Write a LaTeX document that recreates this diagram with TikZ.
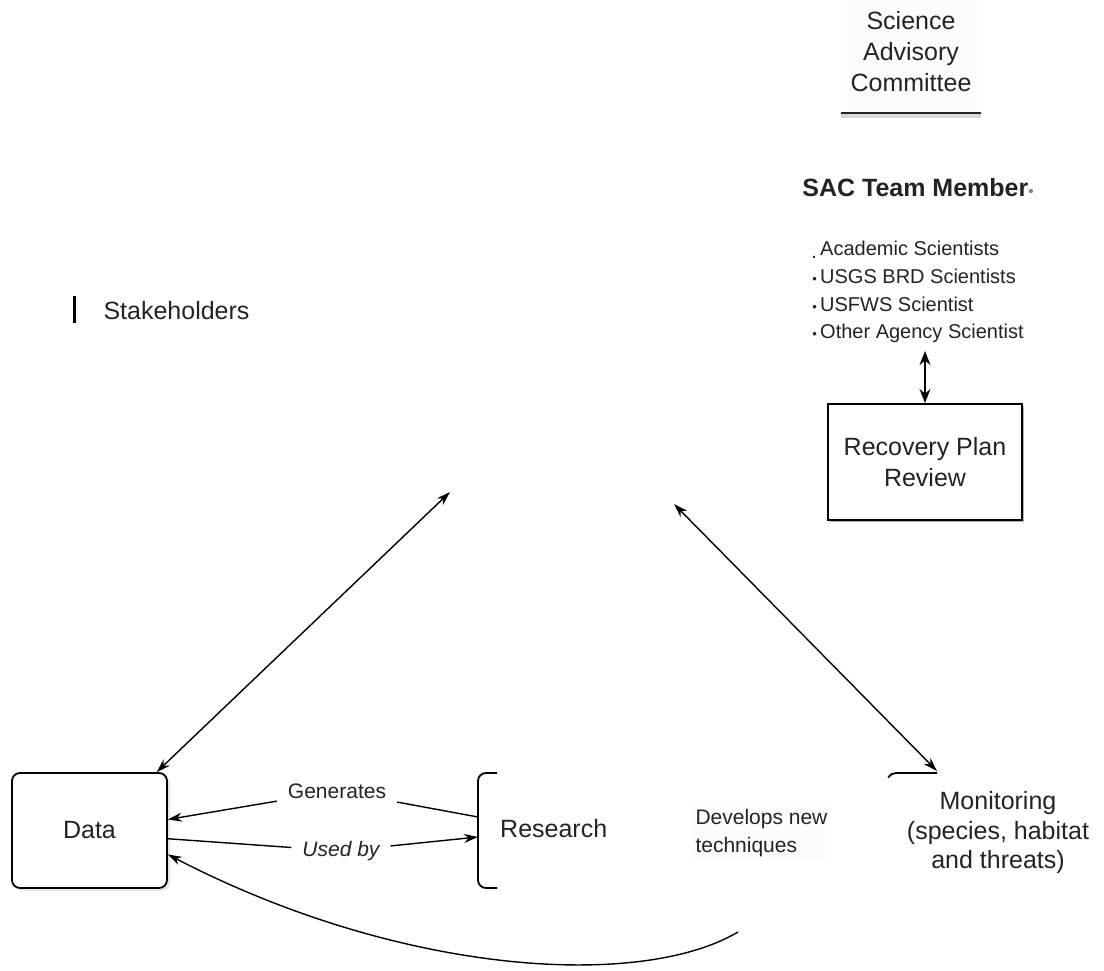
\documentclass[tikz,border=0pt]{standalone}
\usepackage{fontspec}
\setmainfont{Liberation Sans}
\usetikzlibrary{arrows.meta,positioning,shadows}
\definecolor{inkcol}{RGB}{35,35,35}
\newcommand\memberdot{{\fontsize{13}{13}\selectfont\textbullet}\,}

\begin{document}
\begin{tikzpicture}[x=1pt, y=-1pt,
  >={Stealth[length=14pt,width=9pt]},
  lbl/.style={font=\fontsize{25}{31}\selectfont, text=inkcol, align=center},
  small/.style={font=\fontsize{21}{28}\selectfont, text=inkcol},
  edgelbl/.style={small, inner sep=11pt},
  databox/.style={lbl, rectangle, rounded corners=8pt, draw=black,
                  line width=1.8pt, fill=white,
                  minimum width=155pt, minimum height=115pt,
                  drop shadow={shadow xshift=3pt, shadow yshift=-3pt,
                               opacity=0.2}},
  planbox/.style={lbl, rectangle, draw=black, line width=2pt, fill=white,
                  minimum width=194pt, minimum height=116pt,
                  drop shadow={shadow xshift=2pt, shadow yshift=-2pt,
                               opacity=0.6}},
  link/.style={line width=1.4pt}
]
  \useasboundingbox (0,0) rectangle (1104,971);

  % Committee heading with its underline
  \node[lbl, minimum width=139pt, minimum height=122pt, inner sep=0pt,
        fill=black!1] (sac) at (911,52) {Science\\Advisory\\Committee};
  \draw[line width=4pt, black!15] ([yshift=-3pt]sac.south west)
    -- ([yshift=-3pt]sac.south east);
  \draw[line width=2.5pt, black!85] (sac.south west) -- (sac.south east);

  % Team members
  \node[lbl, font=\bfseries\fontsize{25}{31}\selectfont] (sacteam)
    at (918,188) {SAC Team Member{\color{gray}\fontsize{15}{15}\selectfont\textbullet}};
  \node[align=left, anchor=west, inner xsep=0pt, inner ysep=8pt,
        text=inkcol, font=\fontsize{20}{27.7}\selectfont] (members)
    at (820,292) {\llap{\raisebox{-3pt}{.}\,}Academic Scientists\\
                  \llap{\memberdot}USGS BRD Scientists\\
                  \llap{\memberdot}USFWS Scientist\\
                  \llap{\memberdot}Other Agency Scientist};

  \node[planbox] (recovery) at (925,462) {Recovery Plan\\Review};
  \draw[<->, line width=1.6pt, >={Stealth[length=14pt,width=11pt]}]
    (members.south -| recovery.north) -- (recovery.north);

  % Stakeholders
  \draw[line width=3pt] (74,296) -- (74,323);
  \node[lbl, anchor=west] (stake) at (100,311) {Stakeholders};

  % Lower row
  \node[databox] (data) at (89.5,830.5) {Data};
  \node[lbl, anchor=west, inner sep=0pt] (research) at (500,829) {Research};
  \draw[line width=1.8pt, rounded corners=8pt]
    (497,773) -- (478,773) -- (478,888) -- (497,888);
  \coordinate (resout) at (478,817);
  \coordinate (resin)  at (478,837);

  \node[small, anchor=west, align=left, fill=black!1] (develops)
    at (692,833) {Develops new\\techniques};

  \node[lbl, font=\fontsize{25}{29.5}\selectfont] (monitoring) at (998,833)
    {Monitoring\\(species, habitat\\and threats)};
  \draw[line width=1.8pt] (937,773) -- (896,773)
    arc[start angle=90, end angle=150, radius=9pt];
  \coordinate (montop) at (937,771);

  % Long links to the hidden centre
  \coordinate (hubleft)  at (450,492);
  \coordinate (hubright) at (674,504);
  \draw[link, <->] (hubleft) -- (data.41);
  \draw[link, <->] (hubright) -- (montop);

  % Data <-> Research
  \node[edgelbl] (gen) at (337,791) {Generates};
  \draw[link] (resout) -- (gen);
  \draw[link, ->] (gen) -- (data.8);
  \node[edgelbl, font=\itshape\fontsize{21}{28}\selectfont] (usedby)
    at (341,851) {Used by};
  \draw[link] (data.-6) -- (usedby);
  \draw[link, ->] (usedby) -- (resin);

  % Feedback curve into Data
  \coordinate (loopstart) at (738,932);
  \draw[link, ->] (loopstart) .. controls (640,990) and (400,975) .. (data.-17.5);
\end{tikzpicture}
\end{document}
